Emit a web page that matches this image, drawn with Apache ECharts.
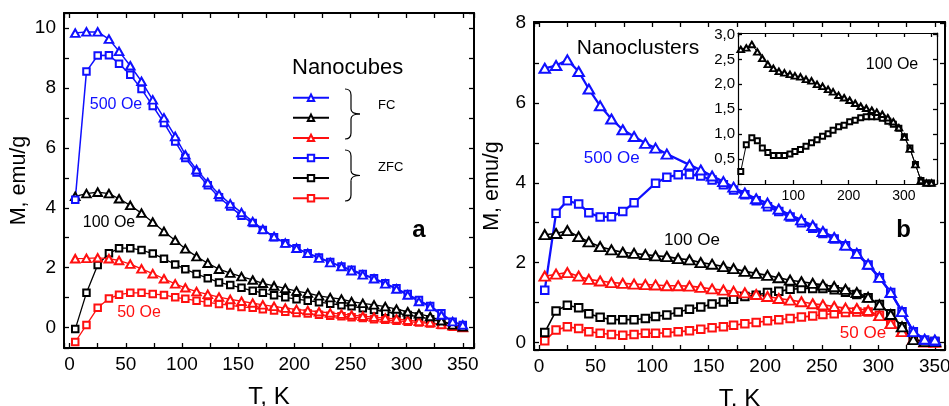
<!DOCTYPE html>
<html><head><meta charset="utf-8">
<script src="https://cdn.jsdelivr.net/npm/echarts@6/dist/echarts.min.js"></script>
<style>html,body{margin:0;padding:0;background:#fff}#c{width:949px;height:406px}</style>
</head><body><div id="c"></div>
<script>
// Temperatures (K)
const T = [5,15,25,35,44,54,64,74,84,94,103,113,123,133,143,153,163,172,182,192,202,212,222,232,242,251,261,271,281,291,301,311,321,331,341,350];

// Panel a: Nanocubes (emu/g)
const aFC500  = [9.83,9.87,9.87,9.63,9.22,8.74,8.22,7.6,7.0,6.38,5.77,5.27,4.84,4.45,4.13,3.84,3.54,3.28,3.04,2.82,2.65,2.48,2.32,2.17,2.04,1.9,1.76,1.63,1.46,1.29,1.09,0.87,0.70,0.42,0.2,0.09];
const aFC100  = [4.38,4.47,4.52,4.47,4.3,4.08,3.82,3.52,3.21,2.91,2.63,2.37,2.15,1.95,1.82,1.7,1.59,1.48,1.39,1.31,1.22,1.15,1.06,1.0,0.95,0.87,0.81,0.76,0.70,0.62,0.53,0.46,0.37,0.23,0.09,0.03];
const aFC50   = [2.30,2.31,2.33,2.30,2.24,2.12,1.96,1.80,1.63,1.46,1.33,1.20,1.11,1.02,0.94,0.88,0.82,0.76,0.71,0.65,0.61,0.57,0.53,0.49,0.45,0.42,0.38,0.35,0.32,0.29,0.25,0.21,0.17,0.11,0.06,0.0];
const aZFC500 = [4.27,8.55,9.08,9.09,8.81,8.44,7.96,7.4,6.83,6.21,5.66,5.18,4.75,4.35,4.04,3.73,3.49,3.26,3.02,2.82,2.65,2.48,2.34,2.19,2.04,1.93,1.79,1.65,1.48,1.31,1.12,0.92,0.72,0.48,0.2,0.09];
const aZFC100 = [-0.05,1.16,2.09,2.48,2.65,2.65,2.59,2.47,2.30,2.11,1.95,1.79,1.65,1.51,1.42,1.33,1.23,1.16,1.08,1.01,0.95,0.90,0.85,0.80,0.75,0.71,0.65,0.59,0.53,0.48,0.42,0.37,0.28,0.2,0.09,0.03];
const aZFC50  = [-0.48,0.09,0.66,0.97,1.10,1.16,1.16,1.12,1.09,1.01,0.96,0.90,0.84,0.79,0.74,0.69,0.66,0.61,0.57,0.53,0.49,0.47,0.43,0.40,0.38,0.35,0.32,0.28,0.26,0.23,0.2,0.17,0.14,0.09,0.03,0.0];

// Panel b: Nanoclusters (emu/g); null = no marker in the picture
const bFC500  = [6.87,6.94,7.08,6.79,6.35,5.93,5.6,5.33,5.16,4.99,4.87,4.72,null,4.45,4.32,4.17,4.03,3.89,3.74,3.6,3.49,3.34,3.19,3.07,2.93,2.78,2.63,2.44,2.23,1.96,1.63,1.25,0.77,0.27,0.08,0.06];
const bFC100  = [2.70,2.73,2.80,2.65,2.52,2.40,2.32,2.26,2.23,2.20,2.17,2.15,2.10,2.07,2.0,1.96,1.9,1.85,1.78,1.73,1.68,1.62,1.56,1.52,1.48,1.44,1.4,1.33,1.25,1.13,0.94,0.70,0.39,0.07,0.02,0.02];
const bFC50   = [1.66,1.71,1.75,1.66,1.58,1.54,1.5,1.48,1.46,1.45,1.44,1.42,1.42,1.41,1.38,1.34,1.31,1.28,1.24,1.20,1.15,1.10,1.06,1.02,0.97,0.94,0.90,0.86,0.85,0.80,0.67,0.47,0.27,0.08,0.01,0.0];
const bZFC500 = [1.31,3.24,3.55,3.47,3.25,3.14,3.15,3.28,3.5,null,3.99,4.14,4.2,4.21,4.17,4.07,3.95,3.82,3.7,3.55,3.4,3.28,3.14,3.0,2.86,2.73,2.59,2.42,2.22,1.94,1.62,1.25,0.77,0.27,0.06,0.02];
const bZFC100 = [0.25,0.79,0.93,0.87,0.72,0.63,0.57,0.57,0.57,0.6,0.65,0.69,0.76,0.83,0.89,0.96,1.01,1.08,1.15,1.18,1.25,1.28,1.33,1.35,1.35,1.35,1.32,1.26,1.2,1.12,0.95,0.72,0.39,0.07,0.02,0.02];
const bZFC50  = [0.04,0.31,0.39,0.35,0.27,0.23,0.2,0.18,0.2,0.23,0.23,0.24,0.27,0.29,0.33,0.37,0.39,0.43,0.47,0.50,0.54,0.57,0.60,0.64,0.66,0.70,0.72,0.75,0.76,0.76,0.68,0.47,0.27,0.07,0.01,0.0];

const xTickLabels = [0,50,100,150,200,250,300,350];
const insetXLabels = [100,200,300];

const F = '"Liberation Sans", Arial, sans-serif';
const BLUE = '#1010ff', RED = '#ff1010', BLACK = '#000';

function pts(vals){ return T.map((t,i)=> vals[i]==null ? null : [t, vals[i]]).filter(p=>p); }

function xAx(gi, min, max, pos, showLabel, name, step, labelSet, fs, lw, tl, z, margin){
  return {gridIndex: gi, type:'value', min, max, position: pos, z,
    minInterval: step, maxInterval: step, splitNumber: 20,
    name: name||'', nameLocation:'middle', nameGap: 37,
    nameTextStyle:{fontSize:24, color:'#000', fontFamily:F},
    axisLine:{show:true, onZero:false, lineStyle:{color:'#000', width:lw}},
    axisTick:{show:true, inside:true, length:tl, lineStyle:{color:'#000', width:1.3}},
    axisLabel:{show: showLabel, margin: margin, fontSize: fs, color:'#000', fontFamily:F,
      formatter: v => labelSet.some(l => Math.abs(l-v)<1e-6) ? String(Math.round(v)) : ''},
    splitLine:{show:false}};
}
function yAx(gi, min, max, pos, showLabel, name, step, labelFn, fs, lw, tl, gap, z, margin){
  return {gridIndex: gi, type:'value', min, max, position: pos, z,
    minInterval: step, maxInterval: step, splitNumber: 20,
    name: name||'', nameLocation:'middle', nameGap: gap,
    nameTextStyle:{fontSize:21.5, color:'#000', fontFamily:F},
    axisLine:{show:true, onZero:false, lineStyle:{color:'#000', width:lw}},
    axisTick:{show:true, inside:true, length:tl, lineStyle:{color:'#000', width:1.3}},
    axisLabel:{show: showLabel, margin: margin, fontSize: fs, color:'#000', fontFamily:F, formatter: labelFn},
    splitLine:{show:false}};
}
const evenInt = v => (Math.abs(v-Math.round(v))<1e-6 && Math.round(v)%2===0) ? String(Math.round(v)) : '';
const halfComma = v => (v > 0.25 && Math.abs(v*2-Math.round(v*2))<1e-6) ? v.toFixed(1).replace('.',',') : '';

function ser(name, xi, yi, vals, color, sym, size, lw, z){
  return {name, type:'line', xAxisIndex:xi, yAxisIndex:yi, data: pts(vals),
    symbol: sym, symbolSize: size, showSymbol:true, z: z||2,
    lineStyle:{color, width: lw}, itemStyle:{color, borderColor: color, borderWidth: 1},
    emphasis:{disabled:true}, animation:false};
}
const TRI_A=[8.5,7.5], SQ_A=6.5, TRI_B=[10.5,9], SQ_B=7.5, TRI_I=[6.5,5.5], SQ_I=5;

function brace(x, y0, y1){
  const xm = x+6, tip = x+15, ym = (y0+y1)/2;
  const st = {stroke:'#000', lineWidth:1.2, fill:null};
  return [
    {type:'bezierCurve', shape:{x1:x,y1:y0,cpx1:xm,cpy1:y0,x2:xm,y2:y0+6}, style:st},
    {type:'line', shape:{x1:xm,y1:y0+6,x2:xm,y2:ym-5}, style:st},
    {type:'bezierCurve', shape:{x1:xm,y1:ym-5,cpx1:xm,cpy1:ym,x2:tip,y2:ym}, style:st},
    {type:'bezierCurve', shape:{x1:tip,y1:ym,cpx1:xm,cpy1:ym,x2:xm,y2:ym+5}, style:st},
    {type:'line', shape:{x1:xm,y1:ym+5,x2:xm,y2:y1-6}, style:st},
    {type:'bezierCurve', shape:{x1:xm,y1:y1-6,cpx1:xm,cpy1:y1,x2:x,y2:y1}, style:st}
  ];
}
function txt(s, x, y, size, color, bold, align){
  return {type:'text', x, y, z: 20, style:{text:s, fill:color, fontSize:size, fontFamily:F,
    fontWeight: bold ? 'bold' : 'normal', textAlign: align||'center', textVerticalAlign:'middle'}};
}

const chart = echarts.init(document.getElementById('c'), null, {renderer:'canvas'});
chart.setOption({
  animation:false,
  backgroundColor:'#fff',
  grid:[
    {left:64, right:475, top:13, bottom:58, outerBoundsMode:'none', containLabel:false},
    {left:534, right:4, top:22, bottom:56, outerBoundsMode:'none', containLabel:false},
    {left:738, top:33, width:199, height:151, show:true, backgroundColor:'#fff', borderWidth:0, z:10, outerBoundsMode:'none', containLabel:false}
  ],
  xAxis:[
    xAx(0,-5,360,'bottom',true,'T, K',25,xTickLabels,19,2,5,0,7),
    xAx(0,-5,360,'top',false,'',25,[],19,2,5,0,7),
    xAx(1,-4.5,359,'bottom',true,'T, K',25,xTickLabels,19,2,5,0,7),
    xAx(1,-4.5,359,'top',false,'',25,[],19,2,5,0,7),
    xAx(2,0,360,'bottom',true,'',50,insetXLabels,14,1.2,4,11,5),
    xAx(2,0,360,'top',false,'',50,[],14,1.2,4,11,5)
  ],
  yAxis:[
    yAx(0,-0.68,10.5,'left',true,'M, emu/g',1,evenInt,19,2,5,33.5,0,8),
    yAx(0,-0.68,10.5,'right',false,'',1,evenInt,19,2,5,33.5,0,8),
    yAx(1,-0.19,8.03,'left',true,'M, emu/g',1,evenInt,19,2,5,31,0,8),
    yAx(1,-0.19,8.03,'right',false,'',1,evenInt,19,2,5,31,0,8),
    yAx(2,0,3.03,'left',true,'',0.5,halfComma,15,1.2,4,30,11,3),
    yAx(2,0,3.03,'right',false,'',0.5,halfComma,15,1.2,4,30,11,3)
  ],
  legend:{data:['a500FC','a100FC','a50FC','a500ZFC','a100ZFC','a50ZFC'], orient:'vertical',
    left:292, top:93.5, padding:0, itemWidth:36, itemHeight:8, itemGap:11.7,
    formatter:()=> '', textStyle:{fontSize:6}, selectedMode:false},
  series:[
    ser('a50ZFC',0,0,aZFC50,RED,'emptyRect',SQ_A,1.3),
    ser('a100ZFC',0,0,aZFC100,BLACK,'emptyRect',SQ_A,1.3),
    ser('a50FC',0,0,aFC50,RED,'emptyTriangle',TRI_A,1.3),
    ser('a100FC',0,0,aFC100,BLACK,'emptyTriangle',TRI_A,1.3),
    ser('a500ZFC',0,0,aZFC500,BLUE,'emptyRect',SQ_A,1.5),
    ser('a500FC',0,0,aFC500,BLUE,'emptyTriangle',TRI_A,1.5),
    ser('b50ZFC',2,2,bZFC50,RED,'emptyRect',SQ_B,1.6),
    ser('b100ZFC',2,2,bZFC100,BLACK,'emptyRect',SQ_B,1.6),
    ser('b50FC',2,2,bFC50,RED,'emptyTriangle',TRI_B,1.6),
    ser('b100FC',2,2,bFC100,BLACK,'emptyTriangle',TRI_B,1.6),
    ser('b500ZFC',2,2,bZFC500,BLUE,'emptyRect',SQ_B,2.3),
    ser('b500FC',2,2,bFC500,BLUE,'emptyTriangle',TRI_B,2.3),
    ser('i100ZFC',4,4,bZFC100,BLACK,'emptyRect',SQ_I,1,12),
    ser('i100FC',4,4,bFC100,BLACK,'emptyTriangle',TRI_I,1,12)
  ],
  graphic:[
    ...brace(345,89,139),
    ...brace(345,150,201),
    txt('Nanocubes',292,68.3,22,'#000',false,'left'),
    txt('FC',378,105.3,13,'#000',false,'left'),
    txt('ZFC',378,167,13,'#000',false,'left'),
    txt('500 Oe',116,104.3,16,BLUE),
    txt('100 Oe',109,222.7,16,'#000'),
    txt('50 Oe',139,312.3,16,RED),
    txt('a',419,230,24,'#000',true),
    txt('Nanoclusters',638,48.3,21,'#000'),
    txt('500 Oe',611.7,158.3,17,BLUE),
    txt('100 Oe',692,240.7,17,'#000'),
    txt('50 Oe',863,333.3,17,RED),
    txt('b',903.5,230,24,'#000',true),
    txt('100 Oe',892,65,16,'#000')
  ]
});
</script></body></html>
